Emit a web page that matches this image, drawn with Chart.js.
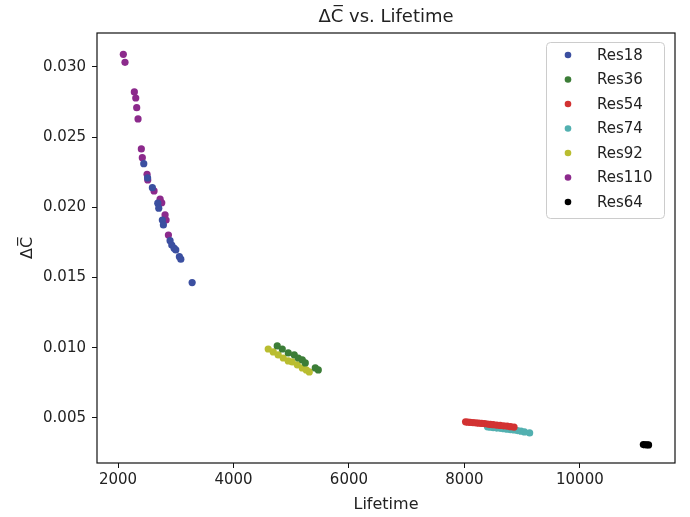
<!DOCTYPE html>
<html>
<head>
<meta charset="utf-8">
<script src="https://cdn.jsdelivr.net/npm/chart.js@4.4.0/dist/chart.umd.min.js"></script>
<style>
  body { margin: 0; background: #fff; }
  #wrap { width: 690px; height: 517px; }
</style>
</head>
<body>
<div id="wrap"><canvas id="lifetime-chart" width="690" height="517"></canvas></div>
<script>
// values
const seriesNames = ["Res18", "Res36", "Res54", "Res74", "Res92", "Res110", "Res64"];
const seriesColors = ["#3b4fa0", "#3c7d37", "#d23232", "#52b0b0", "#b9bd30", "#8c2a8c", "#000000"];

const res18Life = [2446, 2512, 2595, 2689, 2706, 2768, 2786, 2902, 2931, 2971, 3001, 3063, 3088, 3284];
const res18Dc = [0.02311, 0.0221, 0.0214, 0.0203, 0.01994, 0.0191, 0.01875, 0.01763, 0.01732, 0.01709, 0.01697, 0.01649, 0.01631, 0.01464];

const res36Life = [4758, 4845, 4949, 5053, 5122, 5192, 5244, 5417, 5469];
const res36Dc = [0.01013, 0.00991, 0.00963, 0.00949, 0.00927, 0.00913, 0.00892, 0.00856, 0.00842];

const res54Life = [8020, 8060, 8100, 8150, 8200, 8250, 8300, 8350, 8400, 8450, 8500, 8560, 8620, 8680, 8740, 8800, 8860];
const res54Dc = [0.00472, 0.0047, 0.00469, 0.00467, 0.00465, 0.00463, 0.00461, 0.00459, 0.00456, 0.00454, 0.00452, 0.00449, 0.00447, 0.00444, 0.00441, 0.00438, 0.00435];

const res74Life = [8400, 8450, 8500, 8560, 8620, 8680, 8740, 8800, 8860, 8920, 8980, 9040, 9130];
const res74Dc = [0.00437, 0.00434, 0.00431, 0.00428, 0.00426, 0.00423, 0.0042, 0.00417, 0.00414, 0.0041, 0.00406, 0.004, 0.00393];

const res92Life = [4602, 4689, 4775, 4862, 4949, 5018, 5105, 5192, 5261, 5313];
const res92Dc = [0.00991, 0.0097, 0.00949, 0.00927, 0.00906, 0.00899, 0.00878, 0.00856, 0.00842, 0.00828];

const res110Life = [2092, 2121, 2283, 2307, 2324, 2347, 2404, 2421, 2503, 2515, 2624, 2729, 2758, 2815, 2833, 2873];
const res110Dc = [0.0309, 0.03033, 0.02822, 0.02779, 0.0271, 0.0263, 0.02416, 0.02354, 0.02236, 0.02195, 0.02117, 0.02058, 0.02033, 0.01946, 0.0191, 0.01803];

const res64Life = [11100, 11130, 11160, 11190];
const res64Dc = [0.0031, 0.00309, 0.00309, 0.00308];

const xTicks = [2000, 4000, 6000, 8000, 10000];
const yTicks = [0.005, 0.010, 0.015, 0.020, 0.025, 0.030];

const allLife = [res18Life, res36Life, res54Life, res74Life, res92Life, res110Life, res64Life];
const allDc = [res18Dc, res36Dc, res54Dc, res74Dc, res92Dc, res110Dc, res64Dc];

const FONT = "'DejaVu Sans', sans-serif";

var datasets = seriesNames.map(function (name, i) {
  return {
    label: name,
    data: allLife[i].map(function (x, j) { return { x: x, y: allDc[i][j] }; }),
    backgroundColor: seriesColors[i],
    borderWidth: 0,
    pointRadius: 3.6,
  };
});

// title, axis labels, frame and the boxed legend, drawn matplotlib style
var decor = {
  id: "decor",
  afterDraw: function (chart) {
    var ctx = chart.ctx;
    var a = chart.chartArea;
    ctx.save();
    ctx.strokeStyle = "#111";
    ctx.lineWidth = 1.2;
    ctx.strokeRect(a.left, a.top, a.right - a.left, a.bottom - a.top);

    var cx = (a.left + a.right) / 2;
    ctx.fillStyle = "#222";
    ctx.textAlign = "center";
    ctx.textBaseline = "middle";
    ctx.font = "18px " + FONT;
    ctx.fillText("\u0394C\u0305 vs. Lifetime", cx, 17);
    ctx.font = "16px " + FONT;
    ctx.fillText("Lifetime", cx, 505);

    ctx.save();
    ctx.translate(28, (a.top + a.bottom) / 2);
    ctx.rotate(-Math.PI / 2);
    ctx.fillText("\u0394C\u0305", 0, 0);
    ctx.restore();

    // legend
    var lx = 546, ly = 42, lw = 118, lh = 176;
    ctx.beginPath();
    ctx.roundRect(lx + 0.5, ly + 0.5, lw, lh, 4);
    ctx.fillStyle = "rgba(255,255,255,0.85)";
    ctx.fill();
    ctx.strokeStyle = "#cccccc";
    ctx.lineWidth = 1;
    ctx.stroke();
    ctx.textAlign = "left";
    ctx.font = "15px " + FONT;
    seriesNames.forEach(function (name, i) {
      var y = 55 + i * 24.5;
      ctx.beginPath();
      ctx.arc(568, y, 3.3, 0, Math.PI * 2);
      ctx.fillStyle = seriesColors[i];
      ctx.fill();
      ctx.fillStyle = "#222";
      ctx.fillText(name, 597, y + 1);
    });
    ctx.restore();
  },
};

var ctx = document.getElementById("lifetime-chart").getContext("2d");
new Chart(ctx, {
  type: "scatter",
  data: { datasets: datasets },
  options: {
    responsive: false,
    animation: false,
    layout: { padding: { top: 33, right: 15, left: 0, bottom: 0 } },
    plugins: {
      legend: { display: false },
      title: { display: false },
      tooltip: { enabled: false },
    },
    scales: {
      x: {
        type: "linear",
        min: 1636,
        max: 11648,
        afterBuildTicks: function (axis) {
          axis.ticks = xTicks.map(function (v) { return { value: v }; });
        },
        afterFit: function (scale) { scale.height = 54; },
        border: { display: false },
        grid: { display: true, drawOnChartArea: false, drawTicks: true, tickLength: 5, color: "#111" },
        ticks: {
          color: "#222",
          font: { family: FONT, size: 15 },
          padding: 3,
          maxRotation: 0,
          callback: function (v) { return String(v); },
        },
      },
      y: {
        type: "linear",
        min: 0.00179,
        max: 0.03242,
        afterBuildTicks: function (axis) {
          axis.ticks = yTicks.map(function (v) { return { value: v }; });
        },
        afterFit: function (scale) { scale.width = 97; },
        border: { display: false },
        grid: { display: true, drawOnChartArea: false, drawTicks: true, tickLength: 5, color: "#111" },
        ticks: {
          color: "#222",
          font: { family: FONT, size: 15 },
          padding: 6,
          callback: function (v) { return v.toFixed(3); },
        },
      },
    },
  },
  plugins: [decor],
});
</script>
</body>
</html>
